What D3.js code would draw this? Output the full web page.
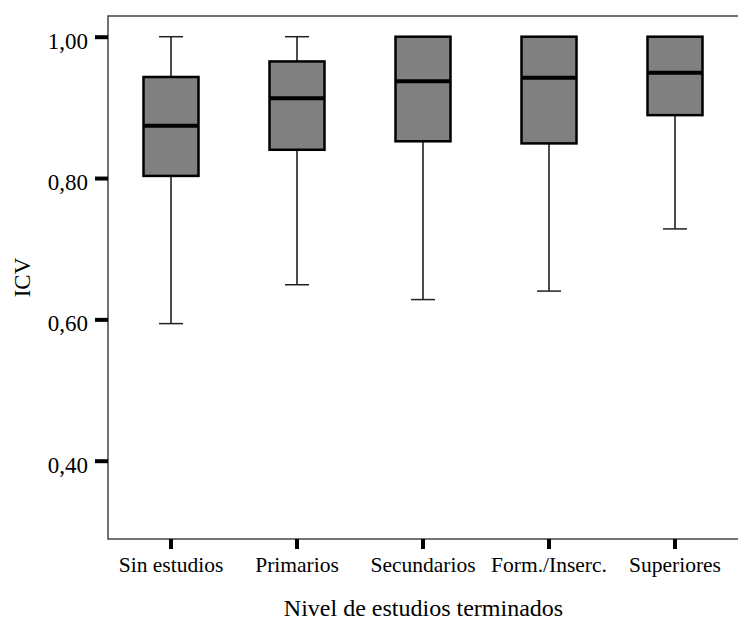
<!DOCTYPE html>
<html>
<head>
<meta charset="utf-8">
<script src="https://cdn.jsdelivr.net/npm/d3@7"></script>
<style>
  body { margin: 0; background: #fff; }
  text { font-family: "Liberation Serif", "Times New Roman", serif; fill: #000; }
</style>
</head>
<body>
<div id="chart"></div>
<script>
// Data (ICV by education level)
const categories = ["Sin estudios", "Primarios", "Secundarios", "Form./Inserc.", "Superiores"];
const whiskerLow = [0.594, 0.649, 0.628, 0.640, 0.728];
const q1 = [0.803, 0.840, 0.852, 0.849, 0.889];
const median = [0.874, 0.913, 0.937, 0.942, 0.949];
const q3 = [0.943, 0.965, 1.000, 1.000, 1.000];
const whiskerHigh = [1.000, 1.000, 1.000, 1.000, 1.000];
const yTicks = [0.40, 0.60, 0.80, 1.00];

const width = 738, height = 620,
  plot = { left: 108, right: 739, top: 16, bottom: 539 };

const svg = d3.select("#chart").append("svg")
  .attr("width", width)
  .attr("height", height);

const x = d3.scaleBand()
  .domain(categories)
  .range([plot.left, plot.right - 1])
  .paddingInner(0)
  .paddingOuter(0);

const y = d3.scaleLinear()
  .domain([0.2892, 1.0293])
  .range([plot.bottom, plot.top]);

const comma = d3.formatLocale({ decimal: ",", thousands: ".", grouping: [3], currency: ["", "€"] });
const fmt = comma.format(".2f");

// plot frame
svg.append("rect")
  .attr("x", plot.left)
  .attr("y", plot.top)
  .attr("width", plot.right - plot.left)
  .attr("height", plot.bottom - plot.top)
  .attr("fill", "none")
  .attr("stroke", "#444")
  .attr("stroke-width", 1.5);

// y axis
const yAxis = svg.append("g")
  .attr("transform", "translate(" + plot.left + ",0)")
  .call(d3.axisLeft(y).tickValues(yTicks).tickSize(13).tickFormat(fmt));
yAxis.select(".domain").remove();
yAxis.selectAll(".tick line").attr("stroke", "#000").attr("stroke-width", 4);
yAxis.selectAll(".tick text")
  .attr("x", -20)
  .attr("dy", "0.5em")
  .style("font-family", "'Liberation Serif', serif")
  .style("font-size", "23px");

// x axis
const xAxis = svg.append("g")
  .attr("transform", "translate(0," + plot.bottom + ")")
  .call(d3.axisBottom(x).tickSize(10).tickPadding(0));
xAxis.select(".domain").remove();
xAxis.selectAll(".tick line").attr("stroke", "#000").attr("stroke-width", 4);
xAxis.selectAll(".tick text")
  .attr("y", 33)
  .attr("dy", 0)
  .style("font-family", "'Liberation Serif', serif")
  .style("font-size", "21.5px");

// axis titles
svg.append("text")
  .attr("x", (plot.left + plot.right) / 2)
  .attr("y", 616)
  .attr("text-anchor", "middle")
  .style("font-size", "24px")
  .text("Nivel de estudios terminados");

svg.append("text")
  .attr("transform", "translate(30," + (plot.top + plot.bottom) / 2 + ") rotate(-90)")
  .attr("text-anchor", "middle")
  .style("font-size", "23px")
  .text("ICV");

// boxes
const boxW = 55, capW = 24;
const g = svg.append("g");
categories.forEach((c, i) => {
  const cx = x(c) + x.bandwidth() / 2;
  // whisker stems
  g.append("line")
    .attr("x1", cx).attr("x2", cx)
    .attr("y1", y(whiskerLow[i])).attr("y2", y(q1[i]))
    .attr("stroke", "#111").attr("stroke-width", 1.5);
  g.append("line")
    .attr("x1", cx).attr("x2", cx)
    .attr("y1", y(whiskerHigh[i])).attr("y2", y(q3[i]))
    .attr("stroke", "#111").attr("stroke-width", 1.5);
  // caps
  [whiskerLow[i], whiskerHigh[i]].forEach(v => {
    g.append("line")
      .attr("x1", cx - capW / 2).attr("x2", cx + capW / 2)
      .attr("y1", y(v)).attr("y2", y(v))
      .attr("stroke", "#222").attr("stroke-width", 1.5);
  });
  // box
  g.append("rect")
    .attr("x", cx - boxW / 2)
    .attr("y", y(q3[i]))
    .attr("width", boxW)
    .attr("height", y(q1[i]) - y(q3[i]))
    .attr("fill", "#808080")
    .attr("stroke", "#000")
    .attr("stroke-width", 2.5);
  // median
  g.append("line")
    .attr("x1", cx - boxW / 2).attr("x2", cx + boxW / 2)
    .attr("y1", y(median[i])).attr("y2", y(median[i]))
    .attr("stroke", "#000").attr("stroke-width", 4);
});
</script>
</body>
</html>
